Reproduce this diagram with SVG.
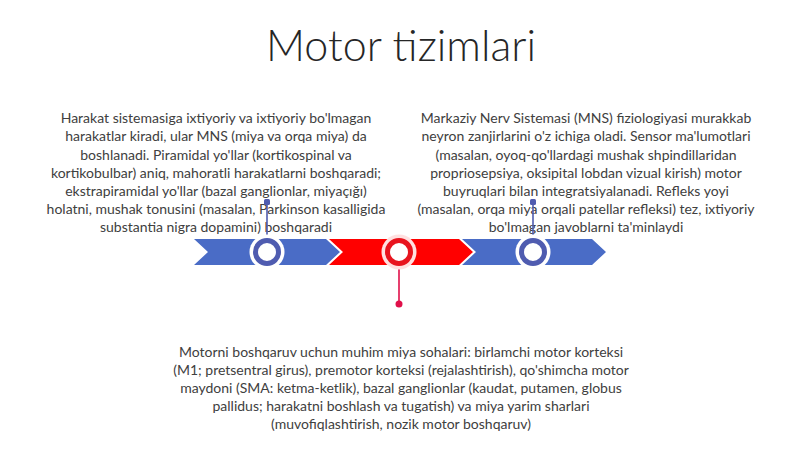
<svg xmlns="http://www.w3.org/2000/svg" width="800" height="449" viewBox="0 0 800 449">
<style>
.t{font-family:Lato,"Carlito","Liberation Sans",sans-serif;font-size:14px;fill:#404040;text-anchor:middle}
.title{font-family:Lato,"Liberation Sans",sans-serif;font-size:43px;font-weight:300;fill:#262626;text-anchor:middle}
.blue{fill:#4a6cc6}
.red{fill:#ff0000}
.halo{fill:#ffffff}
.ringB{fill:#ffffff;stroke:#4f5cb0;stroke-width:5}
.ringR{fill:#ffffff;stroke:#e8141e;stroke-width:5}
.lnB{stroke:#4f5cb0;stroke-width:1.6;fill:none}
.lnR{stroke:#e0104a;stroke-width:1.6;fill:none}
</style>
<rect width="800" height="449" fill="#ffffff"/>
<g id="title"><text class="title" x="401" y="61">Motor tizimlari</text></g>
<g id="text-left">
<text class="t" x="216" y="123">Harakat sistemasiga ixtiyoriy va ixtiyoriy bo'lmagan</text>
<text class="t" x="216" y="141">harakatlar kiradi, ular MNS (miya va orqa miya) da</text>
<text class="t" x="216" y="160">boshlanadi. Piramidal yo'llar (kortikospinal va</text>
<text class="t" x="216" y="178">kortikobulbar) aniq, mahoratli harakatlarni boshqaradi;</text>
<text class="t" x="216" y="196">ekstrapiramidal yo'llar (bazal ganglionlar, miyaçığı)</text>
<text class="t" x="216" y="214">holatni, mushak tonusini (masalan, Parkinson kasalligida</text>
<text class="t" x="216" y="232">substantia nigra dopamini) boshqaradi</text>
</g>
<g id="text-right">
<text class="t" x="586" y="123">Markaziy Nerv Sistemasi (MNS) fiziologiyasi murakkab</text>
<text class="t" x="586" y="141">neyron zanjirlarini o'z ichiga oladi. Sensor ma'lumotlari</text>
<text class="t" x="586" y="160">(masalan, oyoq-qo'llardagi mushak shpindillaridan</text>
<text class="t" x="586" y="178">propriosepsiya, oksipital lobdan vizual kirish) motor</text>
<text class="t" x="586" y="196">buyruqlari bilan integratsiyalanadi. Refleks yoyi</text>
<text class="t" x="586" y="214">(masalan, orqa miya orqali patellar refleksi) tez, ixtiyoriy</text>
<text class="t" x="586" y="232">bo'lmagan javoblarni ta'minlaydi</text>
</g>
<g id="text-bottom">
<text class="t" x="401" y="357">Motorni boshqaruv uchun muhim miya sohalari: birlamchi motor korteksi</text>
<text class="t" x="401" y="375">(M1; pretsentral girus), premotor korteksi (rejalashtirish), qo'shimcha motor</text>
<text class="t" x="401" y="393">maydoni (SMA: ketma-ketlik), bazal ganglionlar (kaudat, putamen, globus</text>
<text class="t" x="401" y="411">pallidus; harakatni boshlash va tugatish) va miya yarim sharlari</text>
<text class="t" x="401" y="429">(muvofiqlashtirish, nozik motor boshqaruv)</text>
</g>
<g id="timeline">
<polygon id="seg1" class="blue" points="194,239 326,239 340,252 326,265 194,265 208,252"/>
<polygon id="seg2" class="red" points="329,239 459,239 473,252 459,265 329,265 343,252"/>
<polygon id="seg3" class="blue" points="462,239 592,239 606,252 592,265 462,265 476,252"/>
</g>
<g id="connectors">
<line class="lnB" x1="267" y1="238" x2="267" y2="202"/>
<rect x="264" y="199" width="6" height="6" rx="1.5" fill="#4f5cb0"/>
<line class="lnB" x1="533" y1="238" x2="533" y2="202"/>
<rect x="530" y="199" width="6" height="6" rx="1.5" fill="#4f5cb0"/>
<line class="lnR" x1="399" y1="266" x2="399" y2="303"/>
<circle cx="399" cy="304" r="3.5" fill="#e0104a"/>
</g>
<g id="marker1"><circle class="halo" cx="267" cy="252" r="17.5"/><circle class="ringB" cx="267" cy="252" r="11.5"/></g>
<g id="marker2"><circle fill="#ffe0e0" cx="399" cy="252" r="17.5"/><circle class="ringR" cx="399" cy="252" r="11.5"/></g>
<g id="marker3"><circle class="halo" cx="533" cy="252" r="17.5"/><circle class="ringB" cx="533" cy="252" r="11.5"/></g>
</svg>
